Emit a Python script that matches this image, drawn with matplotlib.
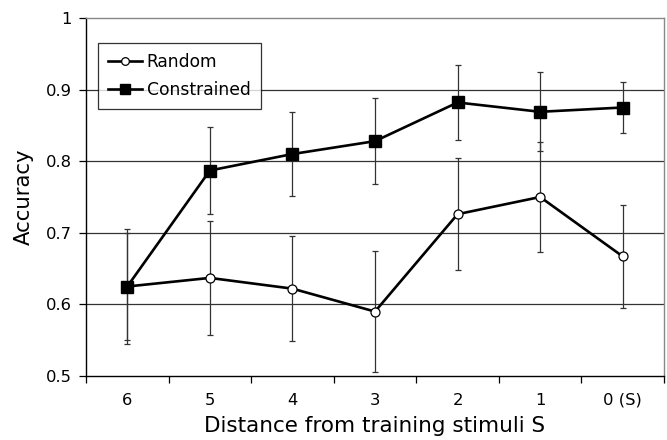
import matplotlib
matplotlib.use("Agg")
import matplotlib.pyplot as plt
import numpy as np

categories = ["6", "5", "4", "3", "2", "1", "0 (S)"]
random_acc = [0.625, 0.637, 0.622, 0.590, 0.726, 0.750, 0.667]
random_err = [0.075, 0.080, 0.073, 0.085, 0.078, 0.077, 0.072]
constrained_acc = [0.625, 0.787, 0.810, 0.828, 0.882, 0.869, 0.875]
constrained_err = [0.081, 0.061, 0.059, 0.060, 0.053, 0.055, 0.036]
yticks = [0.5, 0.6, 0.7, 0.8, 0.9, 1.0]
ytick_labels = ["0.5", "0.6", "0.7", "0.8", "0.9", "1"]

plt.rcParams['font.family'] = ['DejaVu Sans']
fig = plt.figure(figsize=(6.67, 4.4), dpi=100)
ax = fig.add_axes([86/667, 64/440, (664-86)/667, (376-18)/440])

x = np.arange(len(categories))

for v in yticks[1:-1]:
    ax.axhline(v, color="#333333", lw=0.9, zorder=1)

ax.errorbar(x, random_acc, yerr=random_err, fmt="none", ecolor="#333333",
            elinewidth=0.9, capsize=2.4, capthick=0.9, zorder=2)
ax.errorbar(x, constrained_acc, yerr=constrained_err, fmt="none", ecolor="#333333",
            elinewidth=0.9, capsize=2.4, capthick=0.9, zorder=2)

ax.plot(x, random_acc, color="black", lw=1.9, marker="o", ms=6.5,
        mfc="white", mec="black", mew=0.9, label="Random", zorder=3)
ax.plot(x, constrained_acc, color="black", lw=1.9, marker="s", ms=8.2,
        mfc="black", mec="black", label="Constrained", zorder=4)

ax.set_xlim(-0.5, len(categories) - 0.5)
ax.set_ylim(0.5, 1.0)
ax.set_yticks(yticks)
ax.set_yticklabels(ytick_labels, fontsize=11.8)
ax.set_xticks(x)
ax.set_xticklabels(categories, fontsize=11.8)
ax.set_xticks(np.arange(-0.5, len(categories), 1), minor=True)
ax.tick_params(axis="x", which="major", length=0, pad=12)
ax.tick_params(axis="x", which="minor", length=5, width=0.9, direction="out", color="black")
ax.tick_params(axis="y", length=5, width=0.9, direction="out", pad=5)

for s in ["left", "bottom"]:
    ax.spines[s].set_color("black")
    ax.spines[s].set_linewidth(1.0)
for s in ["top", "right"]:
    ax.spines[s].set_color("#888888")
    ax.spines[s].set_linewidth(1.0)

ax.set_xlabel("Distance from training stimuli S", fontsize=15.5, labelpad=6)
ax.set_ylabel("Accuracy", fontsize=15.3, labelpad=9)

leg = ax.legend(loc="upper left", bbox_to_anchor=((98-86)/578, 1 - (43-18)/358),
                borderaxespad=0, fontsize=12.3, frameon=True, fancybox=False,
                edgecolor="black", handlelength=2.0, handletextpad=0.25,
                borderpad=0.6, labelspacing=0.55, markerscale=0.85)
leg.get_frame().set_linewidth(0.9)

fig.savefig("out.png", dpi=100)
